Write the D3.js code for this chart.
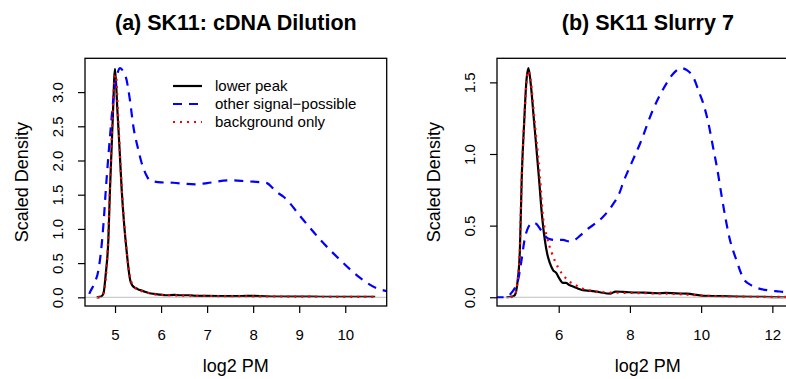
<!DOCTYPE html>
<html>
<head>
<meta charset="utf-8">
<script src="https://cdn.jsdelivr.net/npm/d3@7"></script>
<style>
  body { margin: 0; background: #fff; }
  svg { display: block; font-family: "Liberation Sans", Arial, Helvetica, sans-serif; }
</style>
</head>
<body>
<svg id="chart"></svg>
<script>
// ---- data ----
// (a) cDNA dilution
var dilutionLowerX = [4.60, 4.70, 4.75, 4.80, 4.855, 4.89, 4.95, 5.00, 5.05, 5.10, 5.145, 5.20, 5.25, 5.30, 5.33, 5.38, 5.43, 5.47, 5.52, 5.58, 5.65, 5.75, 5.85, 5.98, 6.10, 6.30, 6.40, 6.60, 6.80, 7.00, 7.50, 8.00, 8.50, 9.00, 9.50, 10.00, 10.65];
var dilutionLowerY = [0.00, 0.01, 0.06, 0.35, 0.84, 1.57, 2.60, 3.34, 2.75, 2.15, 1.57, 1.05, 0.69, 0.38, 0.25, 0.17, 0.14, 0.13, 0.11, 0.10, 0.08, 0.06, 0.05, 0.04, 0.03, 0.035, 0.03, 0.03, 0.02, 0.02, 0.018, 0.02, 0.012, 0.01, 0.008, 0.005, 0.005];

var dilutionOtherX = [4.44, 4.46, 4.55, 4.64, 4.70, 4.75, 4.80, 4.855, 4.91, 4.96, 5.03, 5.11, 5.18, 5.25, 5.32, 5.40, 5.49, 5.58, 5.67, 5.76, 6.00, 6.27, 6.50, 6.74, 7.00, 7.50, 7.80, 8.00, 8.20, 8.30, 8.42, 8.51, 8.66, 9.09, 9.46, 9.89, 10.33, 10.69, 10.90, 11.10];
var dilutionOtherY = [0.05, 0.08, 0.20, 0.40, 0.70, 1.08, 1.57, 2.06, 2.50, 2.88, 3.20, 3.35, 3.30, 3.18, 2.90, 2.49, 2.20, 1.96, 1.80, 1.71, 1.68, 1.675, 1.66, 1.65, 1.67, 1.71, 1.70, 1.69, 1.68, 1.67, 1.60, 1.54, 1.47, 1.13, 0.84, 0.545, 0.28, 0.13, 0.09, 0.06];

var dilutionBackX = [4.62, 4.72, 4.78, 4.84, 4.89, 4.95, 4.99, 5.02, 5.07, 5.145, 5.25, 5.33, 5.42, 5.55, 5.75, 6.00, 7.00, 8.00, 9.00, 10.70];
var dilutionBackY = [0.00, 0.02, 0.15, 0.70, 1.60, 2.70, 3.20, 3.25, 2.60, 1.60, 0.70, 0.28, 0.15, 0.10, 0.06, 0.035, 0.02, 0.015, 0.01, 0.005];

// (b) Slurry 7
var slurryLowerX = [4.53, 4.70, 4.77, 4.84, 4.91, 4.96, 5.03, 5.09, 5.15, 5.21, 5.31, 5.45, 5.52, 5.61, 5.68, 5.75, 5.84, 5.93, 6.02, 6.12, 6.20, 6.30, 6.40, 6.55, 6.68, 6.90, 7.15, 7.44, 7.60, 7.80, 8.00, 8.40, 8.80, 9.00, 9.30, 9.60, 10.00, 10.50, 11.00, 11.50, 12.42];
var slurryLowerY = [0.00, 0.005, 0.016, 0.10, 0.33, 0.82, 1.22, 1.50, 1.60, 1.50, 1.22, 0.82, 0.60, 0.40, 0.30, 0.24, 0.19, 0.17, 0.13, 0.10, 0.10, 0.085, 0.075, 0.06, 0.05, 0.045, 0.035, 0.025, 0.04, 0.038, 0.035, 0.032, 0.028, 0.03, 0.027, 0.025, 0.012, 0.008, 0.005, 0.003, 0.00];

var slurryOtherX = [4.20, 4.50, 4.67, 4.78, 4.86, 4.95, 5.04, 5.15, 5.28, 5.38, 5.47, 5.58, 5.70, 5.90, 6.12, 6.30, 6.45, 6.60, 6.78, 7.00, 7.24, 7.50, 7.71, 7.81, 8.05, 8.28, 8.65, 9.02, 9.25, 9.44, 9.60, 9.77, 9.96, 10.05, 10.20, 10.34, 10.45, 10.58, 10.81, 10.99, 11.19, 11.40, 11.60, 12.20, 12.80];
var slurryOtherY = [0.00, 0.00, 0.03, 0.07, 0.12, 0.25, 0.40, 0.49, 0.52, 0.51, 0.48, 0.44, 0.41, 0.40, 0.40, 0.39, 0.40, 0.43, 0.47, 0.51, 0.56, 0.64, 0.73, 0.80, 0.94, 1.07, 1.31, 1.49, 1.57, 1.60, 1.585, 1.54, 1.42, 1.36, 1.22, 1.04, 0.90, 0.70, 0.40, 0.26, 0.13, 0.085, 0.063, 0.04, 0.03];

var slurryBackX = [4.65, 4.77, 4.84, 4.91, 4.96, 5.03, 5.09, 5.15, 5.22, 5.32, 5.47, 5.56, 5.67, 5.79, 5.90, 6.00, 6.11, 6.30, 6.46, 6.68, 6.88, 7.20, 7.60, 8.00, 8.50, 9.00, 9.50, 10.00, 10.50, 11.00, 12.40];
var slurryBackY = [0.00, 0.02, 0.10, 0.35, 0.82, 1.22, 1.48, 1.58, 1.50, 1.24, 0.85, 0.56, 0.42, 0.32, 0.25, 0.20, 0.16, 0.11, 0.086, 0.06, 0.046, 0.035, 0.032, 0.03, 0.028, 0.025, 0.02, 0.012, 0.008, 0.005, 0.002];

var dilutionXTicks = [5, 6, 7, 8, 9, 10];
var dilutionYTicks = [0, 0.5, 1, 1.5, 2, 2.5, 3];
var slurryXTicks = [6, 8, 10, 12];
var slurryYTicks = [0, 0.5, 1, 1.5];

var legendLabels = ["lower peak", "other signal\u2212possible", "background only"];

// ---- styles ----
var styles = [
    { color: "#000000", dash: null },
    { color: "#0000FF", dash: "9,7" },
    { color: "#FF0000", dash: "2,5" }
];

var svg = d3.select("svg#chart")
            .attr("width", 786)
            .attr("height", 379);

var panels = [
    {
        id: "a", title: "(a) SK11: cDNA Dilution",
        left: 85, right: 386.7, top: 58.3, bottom: 306,
        xlim: [4.348, 10.9], ylim: [-0.127, 3.494],
        xticks: dilutionXTicks, yticks: dilutionYTicks,
        series: [[dilutionLowerX, dilutionLowerY], [dilutionOtherX, dilutionOtherY], [dilutionBackX, dilutionBackY]],
        legend: true
    },
    {
        id: "b", title: "(b) SK11 Slurry 7",
        left: 497, right: 798.7, top: 58.3, bottom: 306,
        xlim: [4.267, 12.74], ylim: [-0.061, 1.668],
        xticks: slurryXTicks, yticks: slurryYTicks,
        series: [[slurryLowerX, slurryLowerY], [slurryOtherX, slurryOtherY], [slurryBackX, slurryBackY]],
        legend: false
    }
];

function fmt(d) { return d3.format(".1f")(d); }

function drawPanel(p) {
    var g = svg.append("g").attr("id", "panel-" + p.id);

    var xScale = d3.scaleLinear().domain(p.xlim).range([p.left, p.right]),
        yScale = d3.scaleLinear().domain(p.ylim).range([p.bottom, p.top]);

    svg.append("clipPath").attr("id", "clip-" + p.id)
        .append("rect")
        .attr("x", p.left).attr("y", p.top)
        .attr("width", p.right - p.left).attr("height", p.bottom - p.top);

    var plotArea = g.append("g").attr("clip-path", "url(#clip-" + p.id + ")");

    var line = d3.line()
        .x(function(d) { return xScale(d[0]); })
        .y(function(d) { return yScale(d[1]); })
        .curve(d3.curveMonotoneX);

    // black curve first, then zero line, then the others
    p.series.forEach(function(s, i) {
        plotArea.append("path")
            .datum(d3.zip(s[0], s[1]))
            .attr("d", line)
            .attr("fill", "none")
            .attr("stroke", styles[i].color)
            .attr("stroke-width", 2.2)
            .attr("stroke-linejoin", "round")
            .attr("stroke-dasharray", styles[i].dash);
        if (i === 0) {
            plotArea.append("line")
                .attr("x1", p.left).attr("x2", p.right)
                .attr("y1", yScale(0)).attr("y2", yScale(0))
                .attr("stroke", "#BEBEBE")
                .attr("stroke-width", 1);
        }
    });

    // box
    g.append("rect")
        .attr("x", p.left).attr("y", p.top)
        .attr("width", p.right - p.left).attr("height", p.bottom - p.top)
        .attr("fill", "none")
        .attr("stroke", "#000")
        .attr("stroke-width", 1.3);

    // x axis
    var xAxis = g.append("g")
        .attr("transform", "translate(0," + p.bottom + ")")
        .call(d3.axisBottom(xScale).tickValues(p.xticks).tickSize(7).tickSizeOuter(0).tickFormat(d3.format("d")));
    xAxis.select(".domain").remove();
    xAxis.selectAll(".tick line").attr("stroke", "#000").attr("stroke-width", 1.2);
    xAxis.selectAll(".tick text")
        .attr("y", 34).attr("dy", null)
        .attr("font-size", "15px")
        .attr("font-family", null)
        .attr("fill", "#000");

    // y axis
    var yAxis = g.append("g")
        .attr("transform", "translate(" + p.left + ",0)")
        .call(d3.axisLeft(yScale).tickValues(p.yticks).tickSize(7).tickSizeOuter(0).tickFormat(fmt));
    yAxis.select(".domain").remove();
    yAxis.selectAll(".tick line").attr("stroke", "#000").attr("stroke-width", 1.2);
    yAxis.selectAll(".tick text")
        .attr("x", null).attr("dy", null)
        .attr("text-anchor", "middle")
        .attr("transform", "translate(-22,0) rotate(-90)")
        .attr("font-size", "15px")
        .attr("font-family", null)
        .attr("fill", "#000");

    var cx = (p.left + p.right) / 2,
        cy = (p.top + p.bottom) / 2;

    // title
    g.append("text")
        .attr("x", cx).attr("y", 30)
        .attr("text-anchor", "middle")
        .attr("font-weight", "bold")
        .attr("font-size", "21.5px")
        .text(p.title);

    // axis titles
    g.append("text")
        .attr("x", cx).attr("y", 372)
        .attr("text-anchor", "middle")
        .attr("font-size", "18px")
        .text("log2 PM");

    g.append("text")
        .attr("transform", "translate(" + (p.left - 57) + "," + cy + ") rotate(-90)")
        .attr("text-anchor", "middle")
        .attr("font-size", "18px")
        .text("Scaled Density");

    if (p.legend) {
        var leg = g.append("g").attr("class", "legend");
        legendLabels.forEach(function(lab, i) {
            var ly = 86 + i * 18;
            leg.append("line")
                .attr("x1", 173).attr("x2", 202)
                .attr("y1", ly).attr("y2", ly)
                .attr("stroke", styles[i].color)
                .attr("stroke-width", 2.2)
                .attr("stroke-dasharray", styles[i].dash);
            leg.append("text")
                .attr("x", 215).attr("y", ly)
                .attr("dy", "0.35em")
                .attr("font-size", "15px")
                .text(lab);
        });
    }
}

panels.forEach(drawPanel);
</script>
</body>
</html>
